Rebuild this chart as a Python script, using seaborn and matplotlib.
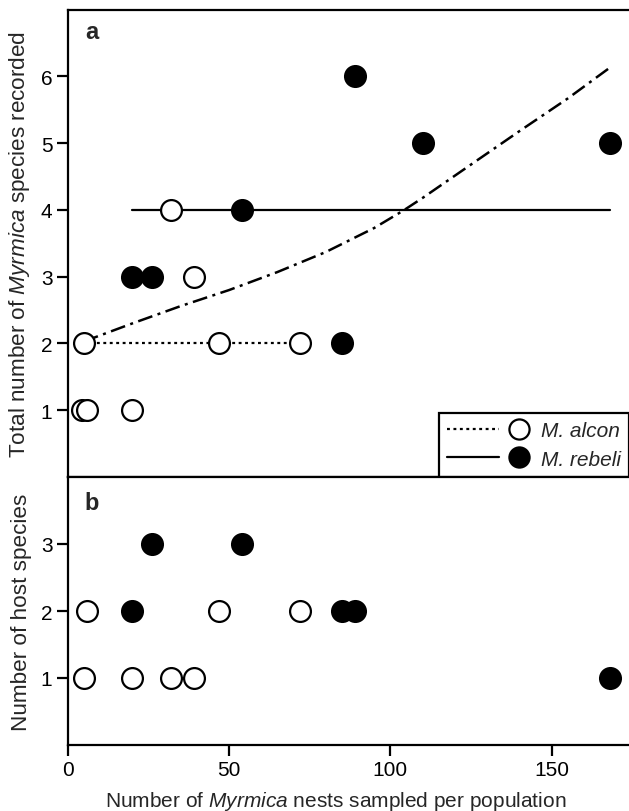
import matplotlib
matplotlib.use("Agg")
import matplotlib.pyplot as plt
import seaborn as sns
from matplotlib.lines import Line2D
from matplotlib.legend_handler import HandlerBase

# ---------------- data ----------------
alcon_a_x = [5, 47, 72, 4.3, 6, 20, 32, 39]
alcon_a_y = [2, 2, 2, 1, 1, 1, 4, 3]
rebeli_a_x = [20, 26, 54, 85, 89, 110, 168]
rebeli_a_y = [3, 3, 4, 2, 6, 5, 5]

alcon_b_x = [5, 6, 20, 32, 39, 47, 72]
alcon_b_y = [1, 2, 1, 1, 1, 2, 2]
rebeli_b_x = [20, 26, 54, 85, 89, 168]
rebeli_b_y = [2, 3, 3, 2, 2, 1]

alcon_range_x = [5, 72]
alcon_range_y = [2, 2]
rebeli_range_x = [20, 168]
rebeli_range_y = [4, 4]

curve_x = [5, 20, 35, 50, 65, 80, 95, 104, 110, 125, 140, 155, 168]
curve_y = [2.03, 2.30, 2.56, 2.80, 3.07, 3.37, 3.73, 3.99, 4.18, 4.68, 5.18, 5.67, 6.13]

yticks_a = [1, 2, 3, 4, 5, 6]
yticks_b = [1, 2, 3]
xticks = [0, 50, 100, 150]
legend_labels = ["M. alcon", "M. rebeli"]

# ---------------- style ----------------
sns.set_style("ticks")
plt.rcParams["font.family"] = ["Liberation Sans", "DejaVu Sans"]
plt.rcParams["mathtext.fontset"] = "custom"
plt.rcParams["mathtext.rm"] = "Liberation Sans"
plt.rcParams["mathtext.it"] = "Liberation Sans:italic"
FS = 15
LW = 1.6

DOT = (0, (1.3, 1.6))
DASHDOT = (0, (6.0, 2.2, 1.2, 2.2))

fig = plt.figure(figsize=(6.29, 8.12), dpi=100)
left = 67.7 / 629
axa = fig.add_axes([left, 1 - 478 / 812, 1 - left, (478 - 10.7) / 812])
axb = fig.add_axes([left, 1 - 746 / 812, 1 - left, (746 - 478) / 812])

ms = 225
open_kw = dict(s=ms, facecolor="white", edgecolor="black", linewidth=1.6, zorder=4)
fill_kw = dict(s=ms, facecolor="black", edgecolor="black", linewidth=1.6, zorder=4)

# panel a
sns.lineplot(x=curve_x, y=curve_y, ax=axa, color="black", lw=1.8, sort=False,
             linestyle=DASHDOT, zorder=2)
sns.lineplot(x=alcon_range_x, y=alcon_range_y, ax=axa, color="black", lw=LW,
             linestyle=DOT, zorder=2)
sns.lineplot(x=rebeli_range_x, y=rebeli_range_y, ax=axa, color="black", lw=LW,
             linestyle="-", zorder=2)
sns.scatterplot(x=alcon_a_x, y=alcon_a_y, ax=axa, **open_kw)
sns.scatterplot(x=rebeli_a_x, y=rebeli_a_y, ax=axa, **fill_kw)

# panel b
sns.scatterplot(x=alcon_b_x, y=alcon_b_y, ax=axb, **open_kw)
sns.scatterplot(x=rebeli_b_x, y=rebeli_b_y, ax=axb, **fill_kw)

xmax = (629 - 67.7) / 3.226
for ax in (axa, axb):
    ax.set_xlim(0, xmax)
    for sp in ax.spines.values():
        sp.set_linewidth(LW)
        sp.set_color("black")
    ax.spines["right"].set_visible(False)
    ax.tick_params(axis="both", direction="out", length=8, width=LW,
                   labelsize=FS, pad=3, colors="black")

axa.set_ylim(0, 7)
axa.set_yticks(yticks_a)
axa.set_xticks([])
axa.tick_params(axis="x", length=0)
axb.set_ylim(0, 4)
axb.set_yticks(yticks_b)
axb.set_xticks(xticks)

axa.set_ylabel("Total number of $\\mathit{Myrmica}$ species recorded", fontsize=16.2)
axb.set_ylabel("Number of host species", fontsize=16.2)
axa.yaxis.set_label_coords(-0.064, 0.5)
axb.yaxis.set_label_coords(-0.064, 0.5)
axb.set_xlabel("Number of $\\mathit{Myrmica}$ nests sampled per population", fontsize=FS)
axb.xaxis.set_label_coords(0.478, -0.163)

axa.text(0.043, 0.953, "a", transform=axa.transAxes, fontsize=17,
         fontweight="bold", ha="center", va="center")
axb.text(0.043, 0.905, "b", transform=axb.transAxes, fontsize=17,
         fontweight="bold", ha="center", va="center")


# legend: line on the left, marker to its right
class LineThenMarker(HandlerBase):
    def create_artists(self, legend, orig_handle, xdescent, ydescent,
                       width, height, fontsize, trans):
        line_h, mark_h = orig_handle
        y = height / 2 - ydescent
        x0 = -xdescent
        ln = Line2D([x0, x0 + width * 0.63], [y, y])
        ln.update_from(line_h)
        ln.set_transform(trans)
        mk = Line2D([x0 + width * 0.87], [y])
        mk.update_from(mark_h)
        mk.set_transform(trans)
        return [ln, mk]


h_alcon = (Line2D([], [], color="black", lw=LW, linestyle=DOT),
           Line2D([], [], marker="o", markersize=14.5, markerfacecolor="white",
                  markeredgecolor="black", markeredgewidth=1.6, linestyle="none"))
h_rebeli = (Line2D([], [], color="black", lw=LW, linestyle="-"),
            Line2D([], [], marker="o", markersize=14.5, markerfacecolor="black",
                   markeredgecolor="black", markeredgewidth=1.6, linestyle="none"))
leg = axa.legend([h_alcon, h_rebeli], legend_labels,
                 handler_map={tuple: LineThenMarker()},
                 loc="lower right", bbox_to_anchor=(1.0, 0.0), borderaxespad=0,
                 prop=dict(family="Liberation Sans", style="italic", size=FS),
                 handlelength=4.0, handleheight=0.7, handletextpad=0.5,
                 labelspacing=0.45, borderpad=0.4,
                 fancybox=False, framealpha=1, edgecolor="black")
leg.get_frame().set_linewidth(LW)
leg.set_zorder(10)

fig.savefig("out.png", dpi=100)
